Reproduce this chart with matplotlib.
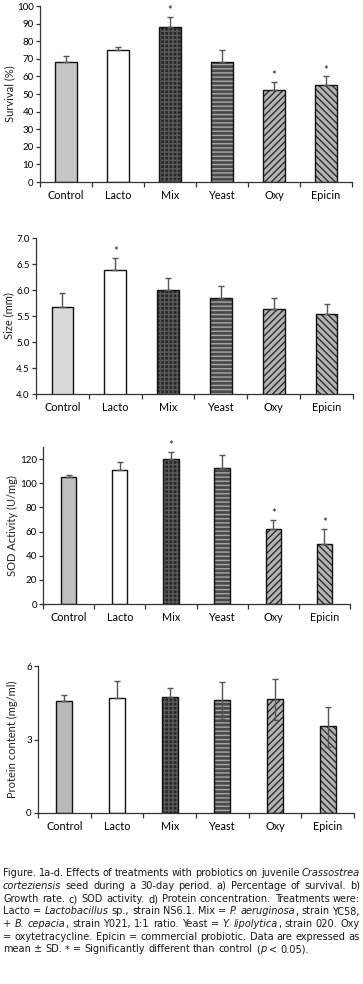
import os
import matplotlib
matplotlib.use("Agg")
import matplotlib.pyplot as plt
from matplotlib import font_manager
from matplotlib.font_manager import FontProperties

names = set(f.name for f in font_manager.fontManager.ttflist)
chart_font = "Lato" if "Lato" in names else "DejaVu Sans"
plt.rcParams["font.family"] = [chart_font, "DejaVu Sans"]

groups = ["Control", "Lacto", "Mix", "Yeast", "Oxy", "Epicin"]

survival = [68, 75, 88, 68, 52, 55]
survival_sd = [3.5, 1.5, 6, 7, 5, 5]
survival_sig = [False, False, True, False, True, True]

size = [5.67, 6.39, 6.00, 5.84, 5.64, 5.53]
size_sd = [0.28, 0.23, 0.23, 0.23, 0.21, 0.21]
size_sig = [False, True, False, False, False, False]

sod = [105.4, 110.9, 120.3, 112.6, 61.7, 49.8]
sod_sd = [1.6, 6.6, 5.7, 10.4, 7.7, 12.2]
sod_sig = [False, False, True, False, True, True]

protein = [4.56, 4.68, 4.75, 4.60, 4.65, 3.54]
protein_sd = [0.24, 0.72, 0.37, 0.73, 0.81, 0.80]
protein_sd_low = [0, 0, 0, 0.78, 0.85, 0.85]
protein_sig = [False, False, False, False, False, False]

# face, hatch, hatch colour per treatment
styles = [
    (None, "", None),
    ("white", "", None),
    ("#2a2a2a", "++++", "#5a5a5a"),
    ("#4a4a4a", "----", "#a8a8a8"),
    ("#b4b4b4", "/////", "#2e2e2e"),
    ("#b4b4b4", "\\\\\\\\\\", "#2e2e2e"),
]

W, H = 363, 984
fig = plt.figure(figsize=(W / 100, H / 100), dpi=100)


def px_axes(left, right, top, bottom):
    return fig.add_axes([left / W, 1 - bottom / H, (right - left) / W, (bottom - top) / H])


def panel(ax, vals, sd, sig, ylabel, ylim, yticks, fmt, control_col, bw, sd_low=None, labelpad=1):
    x = list(range(len(groups)))
    for i, v in enumerate(vals):
        face, hatch, hcol = styles[i]
        if face is None:
            face = control_col
        if hatch:
            ax.bar(x[i], v, bw, color=face, hatch=hatch, edgecolor=hcol, linewidth=0, zorder=2)
        else:
            ax.bar(x[i], v, bw, color=face, linewidth=0, zorder=2)
        ax.bar(x[i], v, bw, fill=False, edgecolor="#111111", linewidth=1.0, zorder=3)
    low = sd_low if sd_low is not None else [0] * len(vals)
    ax.errorbar(x, vals, yerr=[low, sd], fmt="none", ecolor="#555555", elinewidth=1,
                capsize=2, capthick=1, zorder=4)
    for i, s in enumerate(sig):
        if s:
            ax.annotate("*", (x[i], vals[i] + sd[i]), xytext=(0, 0.5), textcoords="offset points",
                        ha="center", va="bottom", fontsize=8, color="#222222")
    ax.set_xlim(-0.5, len(groups) - 0.5)
    ax.set_ylim(*ylim)
    ax.set_yticks(yticks)
    ax.set_yticklabels([fmt.format(t) for t in yticks])
    ax.set_xticks(x)
    ax.set_xticklabels(groups, fontsize=7.8)
    ax.set_xticks([i - 0.5 for i in range(len(groups) + 1)], minor=True)
    ax.tick_params(axis="x", which="major", length=0, pad=6)
    ax.tick_params(axis="x", which="minor", length=3.5, width=0.9, color="#333333")
    ax.tick_params(axis="y", length=3, width=0.9, color="#333333", labelsize=7, pad=1.5)
    for s in ("top", "right"):
        ax.spines[s].set_visible(False)
    for s in ("left", "bottom"):
        ax.spines[s].set_color("#333333")
        ax.spines[s].set_linewidth(0.9)
    ax.set_ylabel(ylabel, fontsize=8, labelpad=labelpad, color="#222222")


ax1 = px_axes(40, 352, 6, 182)
panel(ax1, survival, survival_sd, survival_sig, "Survival (%)", (0, 100), list(range(0, 101, 10)),
      "{:d}", "#c6c6c6", 0.42)

ax2 = px_axes(36, 353, 238, 394)
panel(ax2, size, size_sd, size_sig, "Size (mm)", (4.0, 7.0), [4.0, 4.5, 5.0, 5.5, 6.0, 6.5, 7.0],
      "{:.1f}", "#d9d9d9", 0.41)

ax3 = px_axes(43, 350, 447, 604)
panel(ax3, sod, sod_sd, sod_sig, "SOD Activity (U/mg)", (0, 130), list(range(0, 121, 20)),
      "{:d}", "#bfbfbf", 0.30)

ax4 = px_axes(38, 354, 666, 813)
panel(ax4, protein, protein_sd, protein_sig, "Protein content (mg/ml)", (0, 6), [0, 3, 6],
      "{:d}", "#b9b9b9", 0.30, sd_low=protein_sd_low, labelpad=6)

# caption wants a narrow face; look for one among the installed files
files = [f.fname for f in font_manager.fontManager.ttflist]
wanted = [
    ("LiberationSansNarrow-Regular", "LiberationSansNarrow-Italic"),
    ("DejaVuSansCondensed.", "DejaVuSansCondensed-Oblique"),
    ("RobotoCondensed-Regular", "RobotoCondensed-Italic"),
    ("NotoSans-Condensed.", "NotoSans-CondensedItalic"),
]
cap_reg = cap_it = None
for reg, it in wanted:
    r = [f for f in files if reg in os.path.basename(f)]
    i = [f for f in files if it in os.path.basename(f)]
    if r:
        cap_reg = FontProperties(fname=r[0])
        cap_it = FontProperties(fname=i[0]) if i else FontProperties(fname=r[0])
        break
if cap_reg is None:
    cap_reg = FontProperties(family="Liberation Sans")
    cap_it = FontProperties(family="Liberation Sans", style="italic")

caption = [
    "Figure. 1a-d. Effects of treatments with probiotics on juvenile _Crassostrea_",
    "_corteziensis_ seed during a 30-day period. a) Percentage of survival. b)",
    "Growth rate. c) SOD activity. d) Protein concentration. Treatments were:",
    "Lacto = _Lactobacillus_ sp., strain NS6.1. Mix = _P. aeruginosa_, strain YC58,",
    "+ _B. cepacia_, strain Y021, 1:1 ratio. Yeast = _Y. lipolytica_, strain 020. Oxy",
    "= oxytetracycline. Epicin = commercial probiotic. Data are expressed as",
    "mean \u00b1 SD. * = Significantly different than control (_p_ < 0.05).",
]
cap_y = [873.5, 886, 899, 911.5, 924, 937, 949.5]
cap_x0, cap_x1 = 3, 360

renderer = fig.canvas.get_renderer()


def width_of(s, prop, fs):
    t = fig.text(0, 0, s, fontproperties=prop, fontsize=fs)
    w = t.get_window_extent(renderer).width
    t.remove()
    return w


def split_words(line):
    words = []
    italic = False
    for w in line.split(" "):
        parts = w.split("_")
        pieces = []
        for j, p in enumerate(parts):
            if j > 0:
                italic = not italic
            if p:
                pieces.append((p, italic))
        words.append(pieces)
    return words


# pick the largest size at which every line still fits with plain spaces
ref = 10.0
sp_ref = width_of("a a", cap_reg, ref) - width_of("aa", cap_reg, ref)
scale = 99
for line in caption:
    words = split_words(line)
    need = sum(width_of(p, cap_it if it else cap_reg, ref) for pieces in words for p, it in pieces)
    need += 0.8 * sp_ref * (len(words) - 1)
    scale = min(scale, (cap_x1 - cap_x0) / need)
cap_size = min(ref * scale, 7.8)


def draw_line(line, y, justify):
    made = []
    total = 0
    for pieces in split_words(line):
        wp = []
        for p, it in pieces:
            prop = cap_it if it else cap_reg
            t = fig.text(0, 1 - y / H, p, fontproperties=prop, fontsize=cap_size,
                         va="center", ha="left", color="#1a1a1a")
            wd = t.get_window_extent(renderer).width
            wp.append((t, wd))
            total += wd
        made.append(wp)
    sp = width_of("a a", cap_reg, cap_size) - width_of("aa", cap_reg, cap_size)
    gaps = len(made) - 1
    if justify and gaps > 0:
        sp = (cap_x1 - cap_x0 - total) / gaps
    x = cap_x0
    for wp in made:
        for t, wd in wp:
            t.set_x(x / W)
            x += wd
        x += sp


for k, line in enumerate(caption):
    draw_line(line, cap_y[k], k < len(caption) - 1)

fig.savefig("out.png", dpi=100)
